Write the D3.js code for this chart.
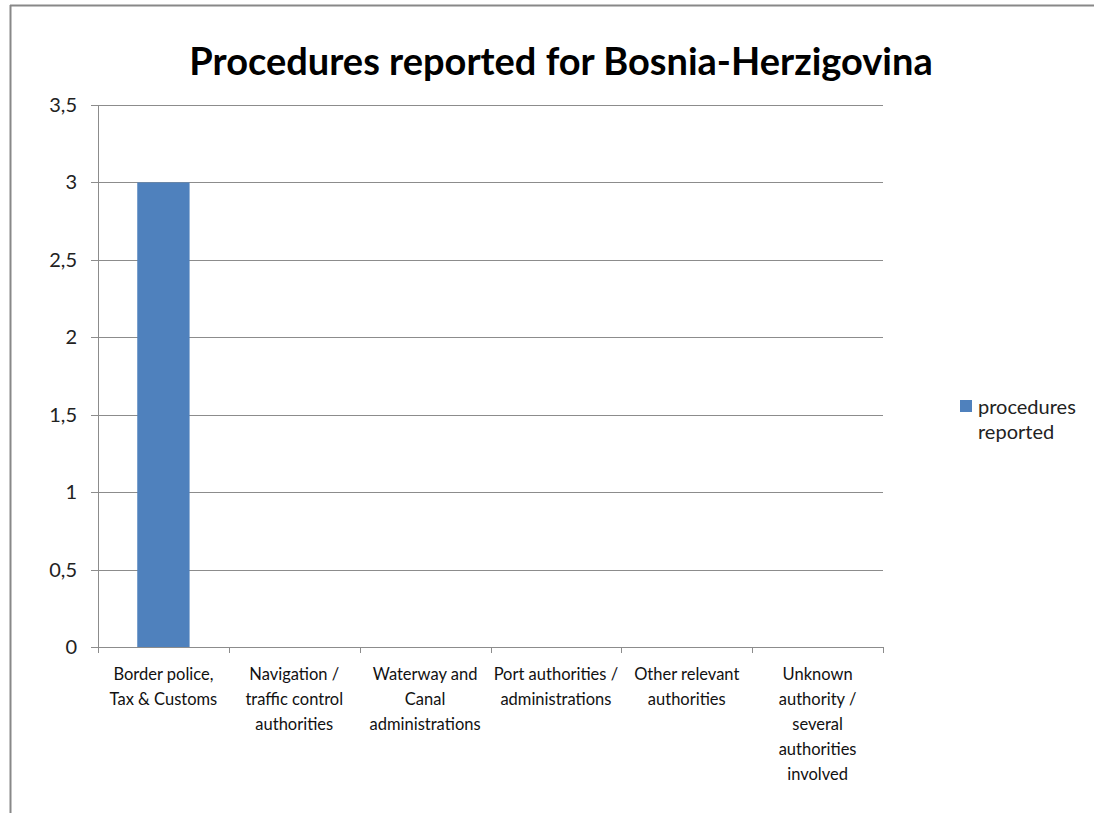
<!DOCTYPE html>
<html>
<head>
<meta charset="utf-8">
<script src="https://cdn.jsdelivr.net/npm/d3@7"></script>
<style>
body { margin: 0; background: #fff; }
text { font-family: Lato, "Open Sans", sans-serif; }
</style>
</head>
<body>
<script>
var categories = [
	["Border police,", "Tax & Customs"],
	["Navigation /", "traffic control", "authorities"],
	["Waterway and", "Canal", "administrations"],
	["Port authorities /", "administrations"],
	["Other relevant", "authorities"],
	["Unknown", "authority /", "several", "authorities", "involved"]
];
var values = [3, 0, 0, 0, 0, 0];
var yTicks = [0, 0.5, 1, 1.5, 2, 2.5, 3, 3.5];
var seriesName = ["procedures", "reported"];
var chartTitle = "Procedures reported for Bosnia-Herzigovina";

var svg = d3.select("body").append("svg")
	.attr("width", 1094)
	.attr("height", 813);

// outer frame (top and left edges visible)
svg.append("line").attr("x1", 10).attr("x2", 1094).attr("y1", 5.5).attr("y2", 5.5)
	.attr("stroke", "#888").attr("stroke-width", 2);
svg.append("line").attr("x1", 10.5).attr("x2", 10.5).attr("y1", 5).attr("y2", 813)
	.attr("stroke", "#888").attr("stroke-width", 2);

var plotLeft = 98, plotRight = 883, plotTop = 105, plotBottom = 647;

var x = d3.scaleBand()
	.domain(d3.range(categories.length))
	.range([plotLeft, plotRight])
	.paddingInner(0.6)
	.paddingOuter(0.3);
var xEdge = d3.scaleLinear().domain([0, categories.length]).range([plotLeft, plotRight]);

var y = d3.scaleLinear().domain([0, 3.5]).range([plotBottom, plotTop]);

svg.append("text")
	.attr("x", 561).attr("y", 75)
	.attr("text-anchor", "middle")
	.style("font-size", "38px").style("font-weight", "bold")
	.text(chartTitle);

// gridlines
svg.append("g").selectAll("line")
	.data(yTicks)
	.enter().append("line")
	.attr("x1", plotLeft - 7).attr("x2", plotRight)
	.attr("y1", function(d){return Math.round(y(d)) + 0.5;})
	.attr("y2", function(d){return Math.round(y(d)) + 0.5;})
	.attr("stroke", "#8c8c8c");

svg.append("g").selectAll("text")
	.data(yTicks)
	.enter().append("text")
	.attr("x", 77).attr("y", function(d){return y(d) + 7;})
	.attr("text-anchor", "end")
	.style("font-size", "20px").attr("fill", "#222")
	.text(function(d){return String(d).replace(".", ",");});

// axes lines
svg.append("line").attr("x1", plotLeft + 0.5).attr("x2", plotLeft + 0.5).attr("y1", plotTop).attr("y2", plotBottom)
	.attr("stroke", "#8c8c8c");
svg.append("g").selectAll("line")
	.data(d3.range(categories.length + 1))
	.enter().append("line")
	.attr("x1", function(d){return Math.round(xEdge(d)) + 0.5;})
	.attr("x2", function(d){return Math.round(xEdge(d)) + 0.5;})
	.attr("y1", plotBottom).attr("y2", plotBottom + 6)
	.attr("stroke", "#8c8c8c");

// bars
svg.append("g").selectAll("rect")
	.data(values)
	.enter().append("rect")
	.attr("x", function(d, i){return x(i);})
	.attr("y", function(d){return y(d);})
	.attr("width", x.bandwidth())
	.attr("height", function(d){return plotBottom - y(d);})
	.attr("fill", "#4f81bd");

// category labels
var labels = svg.append("g").selectAll("text")
	.data(categories)
	.enter().append("text")
	.attr("text-anchor", "middle")
	.attr("x", function(d, i){return (xEdge(i) + xEdge(i + 1)) / 2;})
	.attr("y", 680)
	.style("font-size", "16.5px").attr("fill", "#111");
labels.selectAll("tspan")
	.data(function(d){return d;})
	.enter().append("tspan")
	.attr("x", function(){return this.parentNode.getAttribute("x");})
	.attr("dy", function(d, i){return i === 0 ? 0 : 25;})
	.text(function(d){return d;});

// legend
svg.append("rect").attr("x", 960).attr("y", 400).attr("width", 12).attr("height", 12).attr("fill", "#4f81bd");
svg.append("text").attr("x", 978).attr("y", 414)
	.style("font-size", "20px").attr("fill", "#222")
	.selectAll("tspan").data(seriesName).enter().append("tspan")
	.attr("x", 978).attr("dy", function(d, i){return i === 0 ? 0 : 25;})
	.text(function(d){return d;});
</script>
</body>
</html>
